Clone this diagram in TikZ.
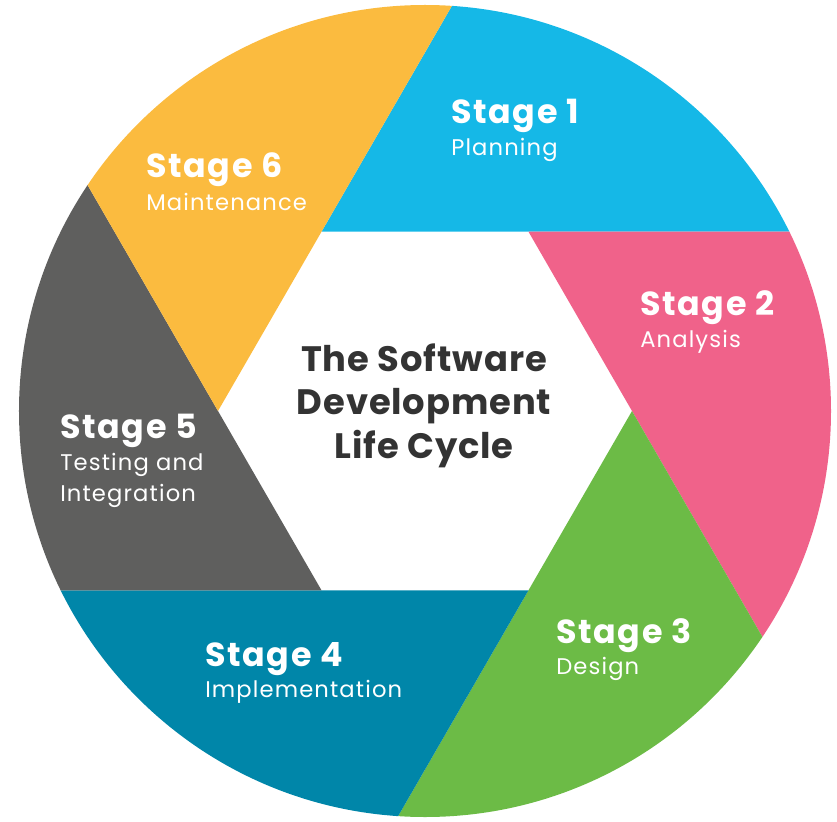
\documentclass[tikz,border=0pt]{standalone}
\usepackage{fontspec}
\setmainfont{Poppins}
\definecolor{cBlue}{HTML}{15B8E7}
\definecolor{cPink}{HTML}{F0628A}
\definecolor{cGreen}{HTML}{6CBB46}
\definecolor{cTeal}{HTML}{0086A9}
\definecolor{cGray}{HTML}{5F5F5E}
\definecolor{cOrange}{HTML}{FBBB3F}
\definecolor{cText}{HTML}{333333}
\begin{document}
\begin{tikzpicture}[x=0.75pt,y=0.75pt,
  stagetitle/.style={anchor=base west, inner sep=0pt, text=white, font=\fontsize{25}{28}\selectfont\bfseries\addfontfeature{LetterSpace=5}},
  stagesub/.style={anchor=base west, inner sep=0pt, text=white, font=\fontsize{17}{20}\selectfont\addfontfeature{LetterSpace=5}},
  centertxt/.style={anchor=base, inner sep=0pt, text=cText, font=\fontsize{26.5}{30}\selectfont\bfseries\addfontfeature{LetterSpace=2.5}}]
\useasboundingbox (-425,-410) rectangle (412,411);
\begin{scope}
  \clip (0,0) circle (406);
  \foreach \a/\c in {120/cBlue,60/cPink,0/cGreen,300/cTeal,240/cGray,180/cOrange}{
    \fill[\c] (\a:207) -- ++(\a-120:1000) -- ++(\a:1000) -- cycle;
  }
\end{scope}
% labels
\node[stagetitle] (s1) at (26,287) {Stage 1};
\node[stagesub] (s1d) at (26,255) {Planning};
\node[stagetitle] (s6) at (-279,233) {Stage 6};
\node[stagesub] (s6d) at (-279,200) {Maintenance};
\node[stagetitle] (s2) at (215,96) {Stage 2};
\node[stagesub] (s2d) at (215,64) {Analysis};
\node[stagetitle] (s5) at (-365,-27) {Stage 5};
\node[stagesub] (s5d) at (-365,-59) {Testing and};
\node[stagesub] (s5e) at (-365,-90) {Integration};
\node[stagetitle] (s4) at (-220,-255) {Stage 4};
\node[stagesub] (s4d) at (-220,-286) {Implementation};
\node[stagetitle] (s3) at (131,-232) {Stage 3};
\node[stagesub] (s3d) at (131,-263) {Design};
\node[centertxt] (c1) at (-1,40) {The Software};
\node[centertxt] (c2) at (-1,-3) {Development};
\node[centertxt] (c3) at (-1,-47) {Life Cycle};
\end{tikzpicture}
\end{document}
